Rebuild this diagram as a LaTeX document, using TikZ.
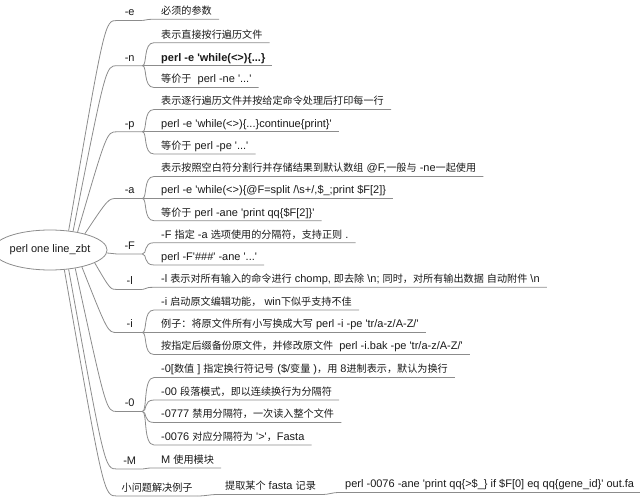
\documentclass[tikz,border=0pt]{standalone}
\usepackage{fontspec}
\newfontfamily\lat{Liberation Sans}
\newfontfamily\cjk{Noto Sans CJK SC}[Scale=0.92]
\usetikzlibrary{shapes.geometric}
\definecolor{linegray}{RGB}{140,140,140}
\definecolor{txt}{RGB}{25,25,25}
% automatic switch to the CJK font for Chinese characters
\chardef\CJKcls=200
\newcount\cjkc
\newcommand\setcjkrange[2]{\cjkc=#1\relax\loop\ifnum\cjkc<#2\relax\XeTeXcharclass\cjkc=\CJKcls\advance\cjkc by 1\relax\repeat}
\setcjkrange{"3000}{"3040}
\setcjkrange{"4E00}{"A000}
\setcjkrange{"FF00}{"FFF0}
\XeTeXinterchartoks 0 \CJKcls = {\cjk}
\XeTeXinterchartoks 1 \CJKcls = {\cjk}
\XeTeXinterchartoks 2 \CJKcls = {\cjk}
\XeTeXinterchartoks 3 \CJKcls = {\cjk}
\XeTeXinterchartoks 4095 \CJKcls = {\cjk}
\XeTeXinterchartoks \CJKcls 0 = {\lat}
\XeTeXinterchartoks \CJKcls 1 = {\lat}
\XeTeXinterchartoks \CJKcls 2 = {\lat}
\XeTeXinterchartoks \CJKcls 3 = {\lat}
\XeTeXinterchartoks \CJKcls 4095 = {\lat}
\XeTeXinterchartokenstate=1
\tikzset{
  conn/.style={draw=linegray, line width=0.8pt},
  rootnode/.style={ellipse, draw=linegray, line width=0.8pt, minimum width=98pt, minimum height=40pt, inner sep=0pt},
  lbl/.style={anchor=south west, inner xsep=4.5pt, inner ysep=1.4pt, text height=9pt, text depth=3pt, minimum width=25pt},
  leaf/.style={anchor=south west, inner xsep=7pt, inner ysep=1.4pt, text height=9pt, text depth=3pt},
  kid/.style={conn},
}
\begin{document}
\begin{tikzpicture}[x=1pt,y=-1pt, every node/.style={font=\lat\fontsize{11}{13}\selectfont, text=txt}]
\useasboundingbox (0,0) rectangle (640,497);

\node[rootnode] (root) at (50,250) {perl one line\_zbt};

% first-level labels
\node[lbl] (le) at (117,20.5) {-e};
\node[lbl] (ln) at (117,65.7) {-n};
\node[lbl] (lp) at (117,131.8) {-p};
\node[lbl] (la) at (117,198.5) {-a};
\node[lbl] (lF) at (117,254) {-F};
\node[lbl] (ll) at (117,289.5) {-l};
\node[lbl] (li) at (117,332.5) {-i};
\node[lbl] (l0) at (117,411.5) {-0};
\node[lbl] (lM) at (117,469) {-M};
\node[lbl] (lx) at (117,496) {小问题解决例子};

% leaves
\node[leaf] (c1) at (154,19.3) {必须的参数};
\node[leaf] (c2) at (154,42.7) {表示直接按行遍历文件};
\node[leaf] (c3) at (154,65.7) {\bfseries perl -e 'while(<>)\{...\}};
\node[leaf] (c4) at (154,87.5) {等价于~ perl -ne '...'};
\node[leaf] (c5) at (154,109.5) {表示逐行遍历文件并按给定命令处理后打印每一行};
\node[leaf] (c6) at (154,131.8) {perl -e 'while(<>)\{...\}continue\{print\}'};
\node[leaf] (c7) at (154,154) {等价于 perl -pe '...'};
\node[leaf] (c8) at (154,176.5) {表示按照空白符分割行并存储结果到默认数组 @F,一般与 -ne一起使用};
\node[leaf] (c9) at (154,198.5) {perl -e 'while(<>)\{@F=split /\textbackslash{}s+/,\$\_;print \$F[2]\}};
\node[leaf] (c10) at (154,220.7) {等价于 perl -ane 'print qq\{\$F[2]\}'};
\node[leaf] (c11) at (154,242.7) {-F 指定 -a 选项使用的分隔符，支持正则 .};
\node[leaf] (c12) at (154,265) {perl -F'\#\#\#' -ane '...'};
\node[leaf] (c13) at (154,287.3) {-l 表示对所有输入的命令进行 chomp, 即去除 \textbackslash{}n; 同时，对所有输出数据 自动附件 \textbackslash{}n};
\node[leaf] (c14) at (154,310) {-i 启动原文编辑功能， win下似乎支持不佳};
\node[leaf] (c15) at (154,332.5) {例子：将原文件所有小写换成大写 perl -i -pe 'tr/a-z/A-Z/'};
\node[leaf] (c16) at (154,354.5) {按指定后缀备份原文件，并修改原文件~ perl -i.bak -pe 'tr/a-z/A-Z/'};
\node[leaf] (c17) at (154,377.5) {-0[数值 ] 指定换行符记号 (\$/变量 )，用 8进制表示，默认为换行};
\node[leaf] (c18) at (154,400) {-00 段落模式，即以连续换行为分隔符};
\node[leaf] (c19) at (154,422.5) {-0777 禁用分隔符，一次读入整个文件};
\node[leaf] (c20) at (154,445) {-0076 对应分隔符为 '>'，Fasta};
\node[leaf] (c21) at (154,468) {M 使用模块};
\node[leaf] (x2) at (218,494.5) {提取某个 fasta 记录};
\node[leaf] (x3) at (338,492.5) {perl -0076 -ane 'print qq\{>\$\_\} if \$F[0] eq qq\{gene\_id\}' out.fa};

% root branches
\draw[conn] (root.46) .. controls (104.8,20.5) .. (le.south west) -- (le.south east);
\draw[conn] (root.39) .. controls (105.8,65.7) .. (ln.south west) -- (ln.south east);
\draw[conn] (root.33) .. controls (106.8,131.8) .. (lp.south west) -- (lp.south east);
\draw[conn] (root.25) .. controls (108.3,198.5) .. (la.south west) -- (la.south east);
\draw[conn] (root.-3) .. controls (112.4,254) .. (lF.south west) -- (lF.south east);
\draw[conn] (root.-16) .. controls (110.3,289.5) .. (ll.south west) -- (ll.south east);
\draw[conn] (root.-28) .. controls (107.8,332.5) .. (li.south west) -- (li.south east);
\draw[conn] (root.-36) .. controls (106.3,411.5) .. (l0.south west) -- (l0.south east);
\draw[conn] (root.-46) .. controls (104.8,469) .. (lM.south west) -- (lM.south east);
\draw[conn] (root.-54) .. controls (103.8,496) .. (lx.south west) -- (lx.south east);

% children
\foreach \p/\c in {le/c1, ln/c2, ln/c3, ln/c4, lp/c5, lp/c6, lp/c7, la/c8, la/c9, la/c10,
                   lF/c11, lF/c12, ll/c13, li/c14, li/c15, li/c16,
                   l0/c17, l0/c18, l0/c19, l0/c20, lM/c21}
  \draw[kid] (\p.south east) .. controls +(5,0) and +(-11,0) .. (\c.south west) -- (\c.south east);
\draw[kid] (lx.south east) .. controls +(9,0) and +(-9,0) .. (x2.south west) -- (x2.south east);
\draw[kid] (x2.south east) .. controls +(5,0) and +(-5,0) .. (x3.south west) -- (x3.south east);
\end{tikzpicture}
\end{document}
